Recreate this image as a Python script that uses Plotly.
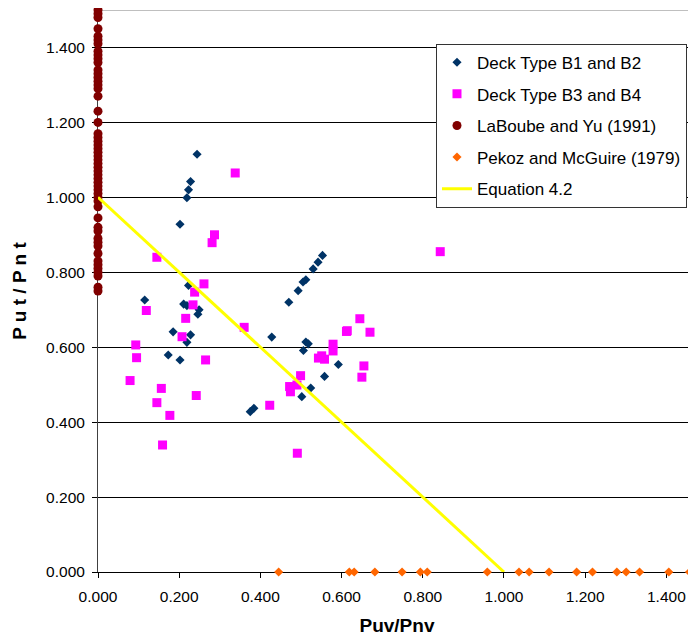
import plotly.graph_objects as go

# Deck Type B1 and B2 (navy diamonds)
b12_x = [0.244, 0.228, 0.223, 0.219, 0.202, 0.223, 0.115, 0.211, 0.219, 0.249, 0.246,
         0.185, 0.228, 0.219, 0.173, 0.202, 0.553, 0.542, 0.530, 0.512, 0.505, 0.493,
         0.470, 0.428, 0.512, 0.518, 0.506, 0.592, 0.558, 0.524, 0.502, 0.375, 0.384]
b12_y = [1.115, 1.042, 1.020, 0.999, 0.928, 0.765, 0.726, 0.715, 0.711, 0.700, 0.688,
         0.641, 0.633, 0.613, 0.579, 0.566, 0.845, 0.827, 0.809, 0.780, 0.774, 0.751,
         0.720, 0.627, 0.614, 0.609, 0.591, 0.554, 0.522, 0.491, 0.468, 0.428, 0.437]

# Deck Type B3 and B4 (magenta squares)
b34_x = [0.338, 0.287, 0.281, 0.145, 0.261, 0.238, 0.234, 0.216, 0.119, 0.207, 0.093,
         0.095, 0.265, 0.079, 0.156, 0.242, 0.145, 0.177, 0.159, 0.360, 0.843, 0.645,
         0.614, 0.612, 0.670, 0.579, 0.579, 0.551, 0.543, 0.558, 0.655, 0.650, 0.499,
         0.490, 0.472, 0.474, 0.423, 0.491]
b34_y = [1.065, 0.900, 0.879, 0.840, 0.769, 0.747, 0.713, 0.677, 0.698, 0.628, 0.606,
         0.572, 0.566, 0.511, 0.490, 0.471, 0.452, 0.418, 0.339, 0.653, 0.855, 0.676,
         0.644, 0.642, 0.640, 0.608, 0.590, 0.577, 0.571, 0.568, 0.550, 0.520, 0.524,
         0.499, 0.495, 0.481, 0.445, 0.317]

# LaBoube and Yu (1991) (dark red circles)
lab_y = [1.50, 1.49, 1.48, 1.45, 1.43, 1.42, 1.41, 1.39, 1.38, 1.37, 1.36, 1.34, 1.33,
         1.32, 1.31, 1.30, 1.29, 1.27, 1.23, 1.20, 1.17, 1.16, 1.15, 1.14, 1.13, 1.12,
         1.11, 1.10, 1.09, 1.08, 1.07, 1.06, 1.05, 1.04, 1.03, 1.02, 1.01, 1.00, 0.99,
         0.975, 0.945, 0.92, 0.91, 0.89, 0.88, 0.87, 0.85, 0.83, 0.82, 0.81, 0.80, 0.79,
         0.76, 0.75]
lab_x = [0.0] * len(lab_y)

# Pekoz and McGuire (1979) (orange diamonds)
pek_x = [0.445, 0.619, 0.631, 0.682, 0.749, 0.794, 0.811, 0.959, 1.037, 1.062, 1.111,
         1.179, 1.218, 1.278, 1.301, 1.334, 1.406, 1.457]
pek_y = [0.0] * len(pek_x)

# Equation 4.2
eq_x = [0.0, 1.0]
eq_y = [1.0, 0.0]

tick_vals = [0.0, 0.2, 0.4, 0.6, 0.8, 1.0, 1.2, 1.4]

FONT = "Liberation Sans, Arial, sans-serif"

fig = go.Figure()
fig.add_trace(go.Scatter(x=b12_x, y=b12_y, mode="markers", name="Deck Type B1 and B2",
                         legendgroup="a", cliponaxis=False,
                         marker=dict(symbol="diamond", size=7, color="#003366", line=dict(width=0))))
fig.add_trace(go.Scatter(x=b34_x, y=b34_y, mode="markers", name="Deck Type B3 and B4",
                         legendgroup="b", cliponaxis=False,
                         marker=dict(symbol="square", size=9, color="#FF00FF", line=dict(width=0))))
fig.add_trace(go.Scatter(x=lab_x, y=lab_y, mode="markers", name="LaBoube and Yu (1991)",
                         legendgroup="c", cliponaxis=False,
                         marker=dict(symbol="circle", size=9, color="#800000", line=dict(width=0))))
fig.add_trace(go.Scatter(x=pek_x, y=pek_y, mode="markers", name="Pekoz and McGuire (1979)",
                         legendgroup="d", cliponaxis=False,
                         marker=dict(symbol="diamond", size=7, color="#FF6600", line=dict(width=0))))
fig.add_trace(go.Scatter(x=eq_x, y=eq_y, mode="lines", name="Equation 4.2",
                         legendgroup="e",
                         line=dict(color="#FFFF00", width=3)))

fig.add_shape(type="line", xref="paper", yref="y", x0=0, x1=1, y0=1.5, y1=1.5,
              line=dict(color="#808080", width=1), layer="below")

fig.update_layout(
    width=688, height=628,
    margin=dict(l=90, r=0, t=2, b=64, autoexpand=False),
    paper_bgcolor="white", plot_bgcolor="white",
    font=dict(family=FONT, size=15, color="black"),
    showlegend=True,
    legend=dict(x=0.5652, y=0.940, xanchor="left", yanchor="top",
                bgcolor="white", bordercolor="#333333", borderwidth=1,
                font=dict(family=FONT, size=17, color="black"),
                tracegroupgap=6.5, traceorder="grouped"),
    xaxis=dict(range=[0, 1.473], tickvals=tick_vals, tickformat=".3f", automargin=False,
               showgrid=False, zeroline=False, showline=True, linecolor="black", linewidth=1,
               ticks="outside", ticklen=5, tickcolor="black", layer="below traces",
               tickfont=dict(family=FONT, size=15.5), ticklabelstandoff=5,
               title=dict(text="<b>Puv/Pnv</b>", font=dict(family=FONT, size=19), standoff=18)),
    yaxis=dict(range=[0, 1.5], tickvals=tick_vals, tickformat=".3f", automargin=False,
               showgrid=True, gridcolor="black", gridwidth=1, zeroline=False,
               showline=True, linecolor="#404040", linewidth=1,
               ticks="outside", ticklen=5, tickcolor="black", layer="below traces",
               tickfont=dict(family=FONT, size=15.5), ticklabelstandoff=4,
               title=dict(text="<b>P u t / P n t</b>", font=dict(family=FONT, size=19), standoff=14)),
)

fig.write_html("out.html")
